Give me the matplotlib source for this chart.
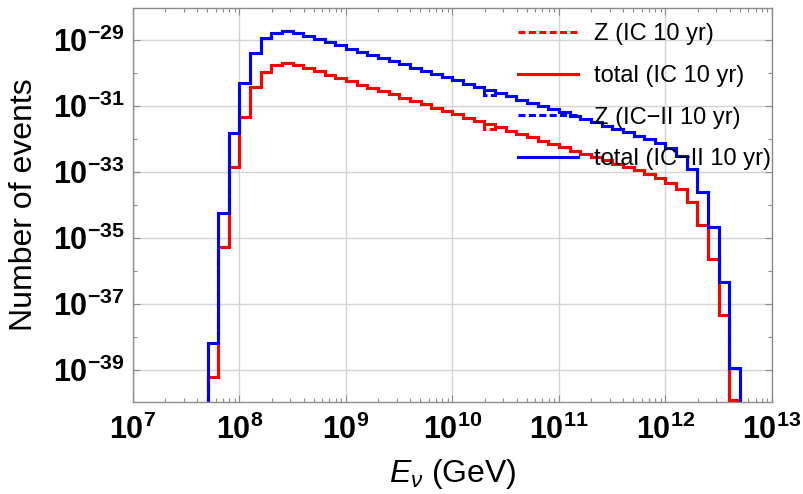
import numpy as np
import matplotlib
matplotlib.use('Agg')
import matplotlib.pyplot as plt
from matplotlib.ticker import FixedLocator, FuncFormatter, LogLocator, NullFormatter

plt.rcParams['font.family'] = ['Liberation Sans', 'DejaVu Sans']
plt.rcParams['mathtext.fontset'] = 'custom'
plt.rcParams['mathtext.rm'] = 'Liberation Sans'
plt.rcParams['mathtext.it'] = 'Liberation Sans:italic'
plt.rcParams['mathtext.bf'] = 'Liberation Sans:bold'

# bin edges, log10(E / GeV), 0.1 decade wide
log_edges = [round(7.7 + 0.1 * i, 1) for i in range(51)]

# log10(number of events) per bin
ic_total = [-39.20, -35.26, -32.84, -31.32, -30.41, -29.96, -29.76, -29.71, -29.76, -29.86,
            -29.95, -30.05, -30.15, -30.25, -30.35, -30.45, -30.55, -30.65, -30.75, -30.85,
            -30.95, -31.05, -31.15, -31.25, -31.35, -31.45, -31.55, -31.65, -31.75, -31.85,
            -31.95, -32.05, -32.15, -32.25, -32.35, -32.45, -32.55, -32.65, -32.75, -32.85,
            -32.95, -33.06, -33.18, -33.34, -33.52, -33.92, -34.61, -35.64, -37.33, -39.90]
ic_z = [-39.20, -35.26, -32.84, -31.32, -30.41, -29.96, -29.76, -29.71, -29.76, -29.86,
        -29.95, -30.05, -30.15, -30.25, -30.35, -30.45, -30.55, -30.65, -30.75, -30.85,
        -30.95, -31.05, -31.15, -31.25, -31.35, -31.45, -31.69, -31.65, -31.75, -31.85,
        -31.95, -32.05, -32.15, -32.25, -32.35, -32.45, -32.55, -32.65, -32.75, -32.85,
        -32.95, -33.06, -33.18, -33.34, -33.52, -33.92, -34.61, -35.64, -37.33, -39.90]
ic2_total = [-38.17, -34.23, -31.83, -30.31, -29.40, -28.95, -28.78, -28.73, -28.78, -28.88,
             -28.97, -29.06, -29.16, -29.26, -29.36, -29.46, -29.55, -29.65, -29.74, -29.84,
             -29.93, -30.03, -30.12, -30.22, -30.32, -30.42, -30.52, -30.61, -30.71, -30.81,
             -30.91, -31.00, -31.09, -31.19, -31.29, -31.39, -31.49, -31.60, -31.70, -31.80,
             -31.90, -32.00, -32.12, -32.28, -32.50, -32.92, -33.60, -34.66, -36.32, -38.95]
ic2_z = [-38.17, -34.23, -31.83, -30.31, -29.40, -28.95, -28.78, -28.73, -28.78, -28.88,
         -28.97, -29.06, -29.16, -29.26, -29.36, -29.46, -29.55, -29.65, -29.74, -29.84,
         -29.93, -30.03, -30.12, -30.22, -30.32, -30.42, -30.66, -30.61, -30.71, -30.81,
         -30.91, -31.00, -31.09, -31.19, -31.29, -31.39, -31.49, -31.60, -31.70, -31.80,
         -31.90, -32.00, -32.12, -32.28, -32.50, -32.92, -33.60, -34.66, -36.32, -38.95]

edges = 10.0 ** np.array(log_edges)
floor = 1e-45
dash = (0, (2.3, 1.1))

fig = plt.figure(figsize=(8.04, 4.94), dpi=100)
ax = fig.add_axes([0.1654, 0.1862, 0.7948, 0.7976])

ax.stairs(10.0 ** np.array(ic_z), edges, baseline=floor, color='red', lw=2.2, ls=dash,
          label='Z (IC 10 yr)')
ax.stairs(10.0 ** np.array(ic_total), edges, baseline=floor, color='red', lw=2.2,
          label='total (IC 10 yr)')
ax.stairs(10.0 ** np.array(ic2_z), edges, baseline=floor, color='blue', lw=2.2, ls=dash,
          label='Z (IC\u2212II 10 yr)')
ax.stairs(10.0 ** np.array(ic2_total), edges, baseline=floor, color='blue', lw=2.2,
          label='total (IC\u2212II 10 yr)')

ax.set_xscale('log')
ax.set_yscale('log')
ax.set_xlim(1e7, 1e13)
ax.set_ylim(10 ** -39.97, 10 ** -28.03)

fmt = FuncFormatter(lambda v, p: r'$\mathbf{10^{%d}}$' % round(np.log10(v)))
ax.xaxis.set_major_locator(LogLocator(base=10, numticks=20))
ax.xaxis.set_minor_locator(LogLocator(base=10, subs=np.arange(2, 10), numticks=20))
ax.xaxis.set_major_formatter(fmt)
ax.xaxis.set_minor_formatter(NullFormatter())
ax.yaxis.set_major_locator(FixedLocator([10.0 ** e for e in range(-39, -28, 2)]))
ax.yaxis.set_minor_locator(FixedLocator([10.0 ** e for e in range(-40, -27, 2)]))
ax.yaxis.set_major_formatter(fmt)
ax.yaxis.set_minor_formatter(NullFormatter())

ax.tick_params(which='both', direction='in', top=True, right=True, color='#8c8c8c',
               labelcolor='black', labelsize=22)
ax.tick_params(which='major', length=5, width=0.8)
ax.tick_params(which='minor', length=3, width=0.8)
ax.tick_params(axis='y', pad=6)
ax.tick_params(axis='x', pad=9)
for s in ax.spines.values():
    s.set_color('#8c8c8c')
    s.set_linewidth(1.0)
ax.grid(True, which='major', color='#d4d4d4', lw=1.0)
ax.set_axisbelow(True)

ax.set_ylabel('Number of events', fontsize=23, labelpad=10)
ax.set_xlabel(r'$E_\nu$ (GeV)', fontsize=23, labelpad=8)

ax.legend(loc='upper right', bbox_to_anchor=(1.011, 0.982), frameon=False, fontsize=17,
          handlelength=2.55, handletextpad=0.68, labelspacing=0.83, borderpad=0.35,
          borderaxespad=0.0)

fig.savefig('out.png', dpi=100)
